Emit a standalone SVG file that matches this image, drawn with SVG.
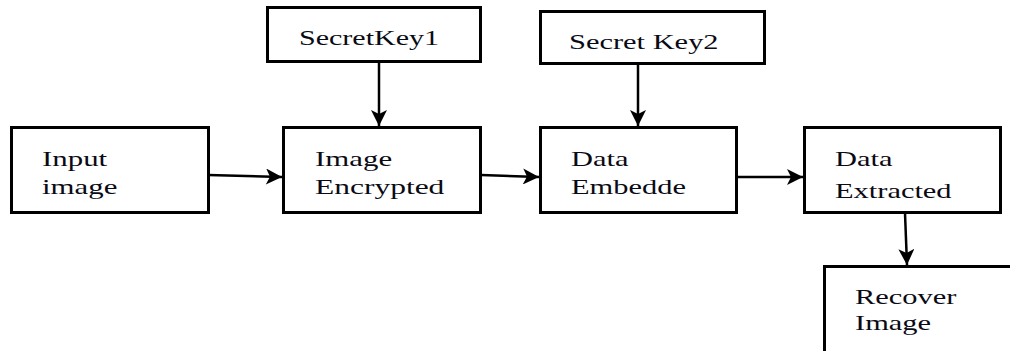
<svg xmlns="http://www.w3.org/2000/svg" width="1010" height="351" viewBox="0 0 1010 351">
<style>
.box{fill:#fff;stroke:#000;stroke-width:3}
.t{font-family:'Liberation Serif','DejaVu Serif',serif;font-size:21px;fill:#0a0a14}
.c{stroke:#000;stroke-width:2.5;fill:none}
</style>
<defs>
<marker id="ah" viewBox="0 0 10 10" refX="10" refY="5" markerUnits="userSpaceOnUse" markerWidth="22" markerHeight="16" orient="auto">
<path d="M0,0 L10,5 L0,10 L2.5,5 Z" fill="#000"/>
</marker>
</defs>
<rect width="1010" height="351" fill="#fff"/>
<g id="connectors">
<line class="c" x1="208" y1="175" x2="282" y2="177" marker-end="url(#ah)"/>
<line class="c" x1="481" y1="175" x2="539" y2="177" marker-end="url(#ah)"/>
<line class="c" x1="737" y1="177" x2="803" y2="177" marker-end="url(#ah)"/>
<line class="c" x1="379" y1="62" x2="379" y2="126" marker-end="url(#ah)"/>
<line class="c" x1="638" y1="63" x2="638" y2="126" marker-end="url(#ah)"/>
<line class="c" x1="905" y1="213" x2="907" y2="265" marker-end="url(#ah)"/>
</g>
<g id="input-image">
<rect class="box" x="11.5" y="127.5" width="197" height="85"/>
<text class="t" transform="translate(42,166) scale(1.47,1)">Input</text>
<text class="t" transform="translate(42,194) scale(1.47,1)">image</text>
</g>
<g id="secret-key1">
<rect class="box" x="267.5" y="7.5" width="213" height="54"/>
<text class="t" transform="translate(299,45) scale(1.43,1)">SecretKey1</text>
</g>
<g id="image-encrypted">
<rect class="box" x="283.5" y="127.5" width="197" height="85"/>
<text class="t" transform="translate(315,166) scale(1.47,1)">Image</text>
<text class="t" transform="translate(315,194) scale(1.5,1)">Encrypted</text>
</g>
<g id="secret-key2">
<rect class="box" x="540.5" y="11.5" width="224" height="52"/>
<text class="t" transform="translate(569,49) scale(1.45,1)">Secret Key2</text>
</g>
<g id="data-embedde">
<rect class="box" x="540.5" y="127.5" width="196" height="85"/>
<text class="t" transform="translate(571,166) scale(1.45,1)">Data</text>
<text class="t" transform="translate(571,194) scale(1.45,1)">Embedde</text>
</g>
<g id="data-extracted">
<rect class="box" x="804.5" y="127.5" width="196" height="85"/>
<text class="t" transform="translate(835,166) scale(1.45,1)">Data</text>
<text class="t" transform="translate(835,198) scale(1.45,1)">Extracted</text>
</g>
<g id="recover-image">
<rect class="box" x="824.5" y="266.5" width="200" height="100"/>
<text class="t" transform="translate(855,304) scale(1.45,1)">Recover</text>
<text class="t" transform="translate(855,330) scale(1.45,1)">Image</text>
</g>
</svg>
